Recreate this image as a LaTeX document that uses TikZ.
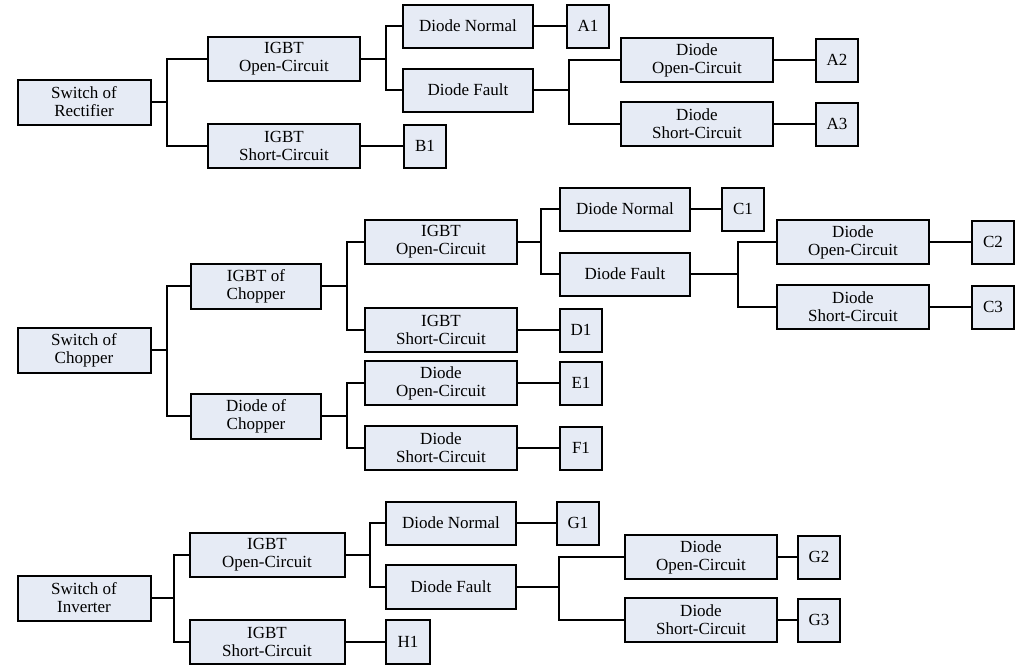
\documentclass[tikz,border=0pt]{standalone}
\usepackage{fontspec}
\setmainfont{Liberation Serif}
\begin{document}
\begin{tikzpicture}[x=1pt,y=-1pt,
 box/.style={draw=black,line width=2pt,fill=boxfill,inner sep=0pt,align=center,font=\fontsize{17}{18}\selectfont},
 wide/.style={box,minimum width=152,minimum height=44},
 mid/.style={box,minimum width=130,minimum height=43},
 leaf/.style={box,minimum width=42,minimum height=43},
 ln/.style={line width=2pt}]
\definecolor{boxfill}{HTML}{E6EBF5}
\useasboundingbox (0,0) rectangle (1024,670);
% Rectifier
\node[mid,minimum width=133,minimum height=45] (R) at (84,102) {Switch of\\Rectifier};
\node[wide] (RIO) at (284,59) {IGBT\\Open-Circuit};
\node[wide] (RIS) at (284,146) {IGBT\\Short-Circuit};
\node[mid] (RDN) at (468,26) {Diode Normal};
\node[mid] (RDF) at (468,90) {Diode Fault};
\node[leaf] (A1) at (588,26) {A1};
\node[wide] (RDO) at (697,60) {Diode\\Open-Circuit};
\node[wide] (RDS) at (697,124) {Diode\\Short-Circuit};
\node[leaf] (A2) at (837,60) {A2};
\node[leaf] (A3) at (837,124) {A3};
\node[leaf] (B1) at (425,146) {B1};
\draw[ln] (R.east) -- +(15,0) |- (RIO.west);
\draw[ln] (R.east) -- +(15,0) |- (RIS.west);
\draw[ln] (RIO.east) -- +(25,0) |- (RDN.west);
\draw[ln] (RIO.east) -- +(25,0) |- (RDF.west);
\draw[ln] (RDF.east) -- +(35,0) |- (RDO.west);
\draw[ln] (RDF.east) -- +(35,0) |- (RDS.west);
\draw[ln] (RDN) -- (A1);
\draw[ln] (RDO) -- (A2);
\draw[ln] (RDS) -- (A3);
\draw[ln] (RIS) -- (B1);
% Chopper
\node[mid,minimum width=133,minimum height=45] (C) at (84,350) {Switch of\\Chopper};
\node[mid,minimum height=45] (CIG) at (256,286) {IGBT of\\Chopper};
\node[mid,minimum height=45] (CDI) at (256,416) {Diode of\\Chopper};
\node[wide] (CIO) at (441,242) {IGBT\\Open-Circuit};
\node[wide] (CIS) at (441,330) {IGBT\\Short-Circuit};
\node[mid] (CDN) at (625,209) {Diode Normal};
\node[mid] (CDF) at (625,274) {Diode Fault};
\node[leaf] (C1) at (743,209) {C1};
\node[wide] (CDO) at (853,242) {Diode\\Open-Circuit};
\node[wide] (CDS) at (853,307) {Diode\\Short-Circuit};
\node[leaf] (C2) at (993,242) {C2};
\node[leaf] (C3) at (993,307) {C3};
\node[leaf] (D1) at (581,330) {D1};
\node[wide] (CEO) at (441,383) {Diode\\Open-Circuit};
\node[wide] (CFS) at (441,448) {Diode\\Short-Circuit};
\node[leaf] (E1) at (581,383) {E1};
\node[leaf] (F1) at (581,448) {F1};
\draw[ln] (C.east) -- +(15,0) |- (CIG.west);
\draw[ln] (C.east) -- +(15,0) |- (CDI.west);
\draw[ln] (CIG.east) -- +(25,0) |- (CIO.west);
\draw[ln] (CIG.east) -- +(25,0) |- (CIS.west);
\draw[ln] (CDI.east) -- +(25,0) |- (CEO.west);
\draw[ln] (CDI.east) -- +(25,0) |- (CFS.west);
\draw[ln] (CIO.east) -- +(23,0) |- (CDN.west);
\draw[ln] (CIO.east) -- +(23,0) |- (CDF.west);
\draw[ln] (CDF.east) -- +(47,0) |- (CDO.west);
\draw[ln] (CDF.east) -- +(47,0) |- (CDS.west);
\draw[ln] (CDN) -- (C1);
\draw[ln] (CDO) -- (C2);
\draw[ln] (CDS) -- (C3);
\draw[ln] (CIS) -- (D1);
\draw[ln] (CEO) -- (E1);
\draw[ln] (CFS) -- (F1);
% Inverter
\node[mid,minimum width=133,minimum height=45] (I) at (84,598) {Switch of\\Inverter};
\node[wide,minimum width=155] (IIO) at (267,555) {IGBT\\Open-Circuit};
\node[wide,minimum width=155] (IIS) at (267,642) {IGBT\\Short-Circuit};
\node[mid] (IDN) at (451,523) {Diode Normal};
\node[mid,minimum height=44] (IDF) at (451,587) {Diode Fault};
\node[leaf] (G1) at (578,523) {G1};
\node[wide] (IDO) at (701,557) {Diode\\Open-Circuit};
\node[wide] (IDS) at (701,620) {Diode\\Short-Circuit};
\node[leaf] (G2) at (819,557) {G2};
\node[leaf] (G3) at (819,620) {G3};
\node[leaf,minimum width=44,minimum height=44] (H1) at (408,642) {H1};
\draw[ln] (I.east) -- +(22,0) |- (IIO.west);
\draw[ln] (I.east) -- +(22,0) |- (IIS.west);
\draw[ln] (IIO.east) -- +(24,0) |- (IDN.west);
\draw[ln] (IIO.east) -- +(24,0) |- (IDF.west);
\draw[ln] (IDF.east) -- +(42,0) |- (IDO.west);
\draw[ln] (IDF.east) -- +(42,0) |- (IDS.west);
\draw[ln] (IDN) -- (G1);
\draw[ln] (IDO) -- (G2);
\draw[ln] (IDS) -- (G3);
\draw[ln] (IIS) -- (H1);
\end{tikzpicture}
\end{document}
